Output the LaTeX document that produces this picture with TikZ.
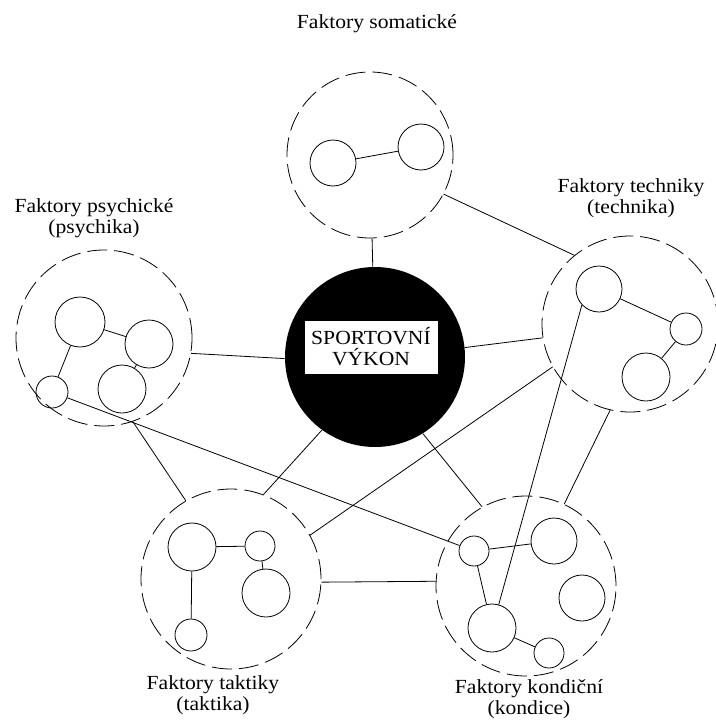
\documentclass[tikz,border=0pt]{standalone}
\usepackage{fontspec}
\setmainfont{Liberation Serif}[FakeStretch=1.08]
\usetikzlibrary{positioning}

\begin{document}
\begin{tikzpicture}[x=1pt,y=-1pt,line width=.8pt,
every node/.style={font=\fontsize{20}{21}\selectfont},
grp/.style={draw,circle,dash pattern=on 20pt off 7pt,minimum size=#1,inner sep=0},
sub/.style={draw,circle,minimum size=#1,inner sep=0},
lbl/.style={align=center,inner sep=0},
link/.style={draw}]
\useasboundingbox (0,0) rectangle (715,720);
% centre
\node[circle,fill=black,minimum size=180pt,inner sep=0] (core) at (375,357) {};
\node[fill=white,minimum width=133pt,minimum height=53pt,align=center,inner sep=0] (corelbl) at (371,347) {SPORTOVNÍ\\VÝKON};
% groups
\node[grp=166pt] (som) at (370,155) {};
\node[grp=176pt] (psy) at (104,338) {};
\node[grp=176pt] (tech) at (630,324) {};
\node[grp=180pt] (takt) at (231,579) {};
\node[grp=180pt] (kond) at (526,586) {};
% labels
\node[lbl] (somlbl) at (377,24) {Faktory somatické};
\node[lbl] (psylbl) at (94,218) {Faktory psychické\\(psychika)};
\node[lbl] (techlbl) at (631,198) {Faktory techniky\\(technika)};
\node[lbl] (taktlbl) at (213,695) {Faktory taktiky\\(taktika)};
\node[lbl] (kondlbl) at (529,699) {Faktory kondiční\\(kondice)};
% inner circles
\node[sub=46pt] (s1) at (333,163) {};
\node[sub=46pt] (s2) at (421,147) {};
\node[sub=50pt] (p1) at (80,322) {};
\node[sub=48pt] (p2) at (149,344) {};
\node[sub=48pt] (p3) at (122,389) {};
\node[sub=32pt] (p4) at (52,392) {};
\node[sub=46pt] (t1) at (599,289) {};
\node[sub=32pt] (t2) at (686,329) {};
\node[sub=48pt] (t3) at (646,377) {};
\node[sub=48pt] (a1) at (192,547) {};
\node[sub=30pt] (a2) at (260,546) {};
\node[sub=48pt] (a3) at (266,593) {};
\node[sub=32pt] (a4) at (191,635) {};
\node[sub=30pt] (k1) at (474,551) {};
\node[sub=46pt] (k2) at (554,541) {};
\node[sub=46pt] (k3) at (582,598) {};
\node[sub=48pt] (k4) at (492,628) {};
\node[sub=30pt] (k5) at (549,653) {};
% links inside groups
\draw[link] (s1)--(s2);
\draw[link] (p1)--(p2);\draw[link] (p1)--(p4);\draw[link] (p2)--(p3);
\draw[link] (t1)--(t2);\draw[link] (t2)--(t3);
\draw[link] (a1)--(a2);\draw[link] (a2)--(a3);\draw[link] (a1)--(a4);
\draw[link] (k1)--(k2);\draw[link] (k1)--(k4);\draw[link] (k4)--(k5);
% links between groups
\draw[link] (som)--(core);
\draw[link] (psy.-10)--(core.181);
\draw[link] (core.6)--(tech.189);
\draw[link] (core.-58)--(kond.119);
\draw[link] (core.234)--(takt.69);
\draw[link] (takt.-2)--(kond.177);
\draw[link] (som.-28)--(tech.129);
\draw[link] (psy.-71)--(takt.120);
\draw[link] (tech.209)--(takt.29);
\draw[link] (tech.257)--(kond.65);
\draw[link] (p4)--(k1);
\draw[link] (k4.74)--(t1.223);
\end{tikzpicture}
\end{document}
